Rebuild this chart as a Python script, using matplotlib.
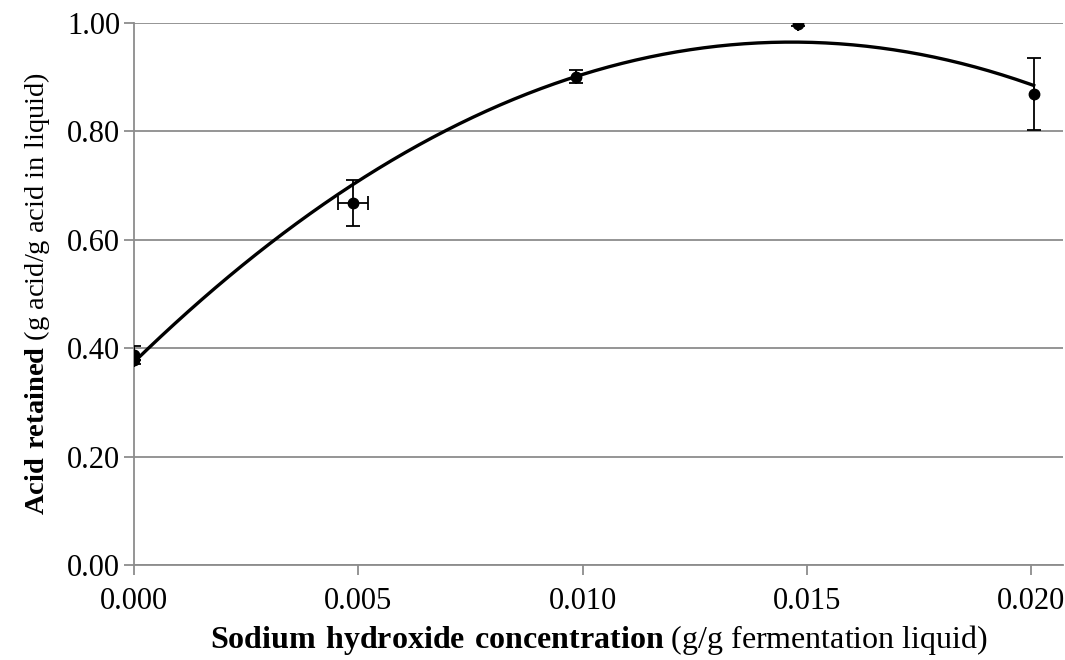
import numpy as np
import matplotlib.pyplot as plt

# NaOH dose vs. fraction of acid retained
naoh = [0.0, 0.0, 0.00488, 0.00985, 0.01480, 0.02005]
retained = [0.378, 0.388, 0.668, 0.901, 0.998, 0.869]
retained_err = [0.0, 0.017, 0.042, 0.012, 0.004, 0.067]
naoh_err = [0.0, 0.0, 0.00033, 0.0, 0.0, 0.0]

x_ticks = [0.000, 0.005, 0.010, 0.015, 0.020]
y_ticks = [0.00, 0.20, 0.40, 0.60, 0.80, 1.00]

plt.rcParams['font.family'] = 'Liberation Serif'
plt.rcParams['mathtext.fontset'] = 'custom'
plt.rcParams['mathtext.rm'] = 'Liberation Serif'
plt.rcParams['mathtext.bf'] = 'Liberation Serif:bold'

fig = plt.figure(figsize=(10.65, 6.6), dpi=100)
ax = fig.add_axes([0.1258, 0.144, 0.8722, 0.821])

# 2nd order polynomial trendline
coef = np.polyfit(naoh, retained, 2)
xs = np.linspace(min(naoh), max(naoh), 200)
ax.plot(xs, np.polyval(coef, xs), color='black', lw=2.4, zorder=3)

ax.errorbar(naoh, retained, yerr=retained_err, xerr=naoh_err, fmt='o',
            color='black', ms=7.5, elinewidth=1.3, capsize=5, capthick=1.3,
            zorder=4)

ax.set_xlim(0, 0.0207)
ax.set_ylim(0, 1.0)
ax.set_xticks(x_ticks)
ax.set_xticklabels([f'{v:.3f}' for v in x_ticks])
ax.set_yticks(y_ticks)
ax.set_yticklabels([f'{v:.2f}' for v in y_ticks])

ax.yaxis.grid(True, color='#8c8c8c', lw=1.3)
ax.set_axisbelow(True)
for side in ['top', 'right']:
    ax.spines[side].set_visible(False)
for side in ['left', 'bottom']:
    ax.spines[side].set_color('#8c8c8c')
    ax.spines[side].set_linewidth(1.3)
ax.tick_params(axis='both', colors='#8c8c8c', width=1.3, length=7,
               labelcolor='black', labelsize=22)
ax.tick_params(axis='x', pad=9)
ax.tick_params(axis='y', pad=3)

ax.set_xlabel(r'$\mathbf{Sodium\ hydroxide\ concentration}$ (g/g fermentation liquid)',
              fontsize=23, labelpad=5)
ax.set_ylabel(r'$\mathbf{Acid\ retained}$ (g acid/g acid in liquid)',
              fontsize=20.5, labelpad=11)

fig.savefig('out.png', dpi=100)
